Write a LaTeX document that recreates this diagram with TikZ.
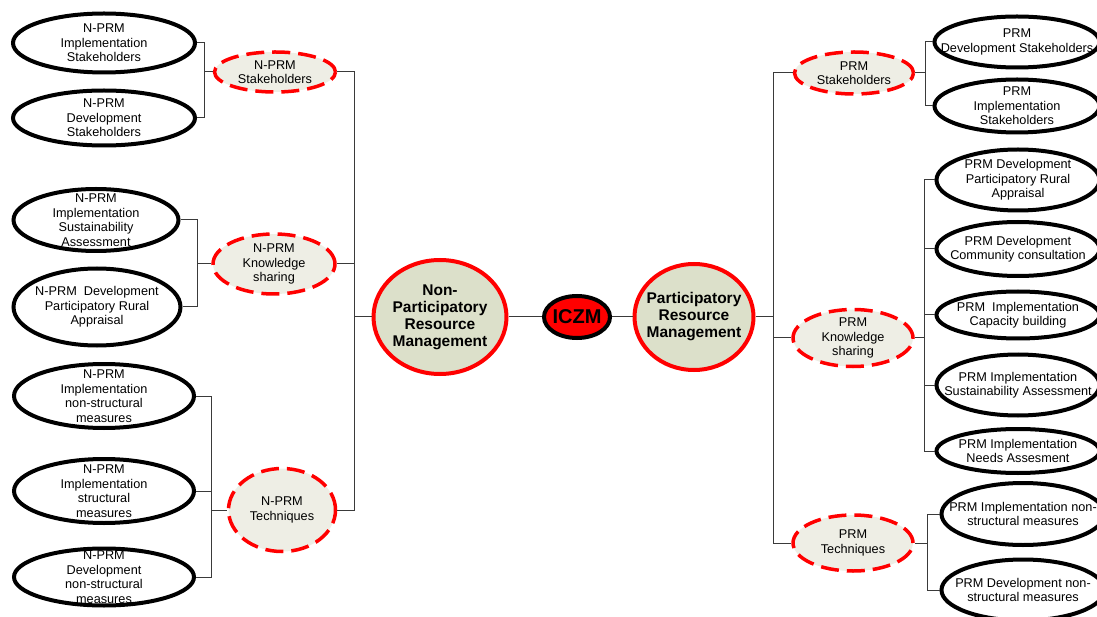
\documentclass[tikz,border=0pt]{standalone}
\usepackage{fontspec}
\setmainfont{Liberation Sans}
\usetikzlibrary{shapes.geometric}
\definecolor{iczmred}{HTML}{FF0000}
\definecolor{topicfill}{HTML}{EEEEE5}
\definecolor{corefill}{HTML}{DCE0CA}
\definecolor{linegray}{HTML}{3A3A3A}
\tikzset{
	leaf/.style 2 args={ellipse, draw, line width=4pt, inner sep=-20pt, minimum width=#1pt, minimum height=#2pt, align=center, font=\fontsize{12.7}{14.5}\selectfont},
	topic/.style 2 args={ellipse, draw=iczmred, fill=topicfill, line width=3.5pt, dash pattern=on 18pt off 8pt, inner sep=-20pt, minimum width=#1pt, minimum height=#2pt, align=center, font=\fontsize{12.7}{14.5}\selectfont},
	core/.style 2 args={ellipse, draw=iczmred, fill=corefill, line width=4pt, inner sep=-20pt, minimum width=#1pt, minimum height=#2pt, align=center, font=\bfseries\fontsize{15.5}{17}\selectfont},
	wire/.style={draw=linegray, line width=1pt},
}
\begin{document}
\begin{tikzpicture}[x=1pt,y=-1pt]
	\useasboundingbox (0,0) rectangle (1097,617);
	% centre
	\node[core={133}{114}] (NPRM) at (440,317) {Non-\\Participatory\\Resource\\Management};
	\node[ellipse, draw, fill=iczmred, line width=4pt, inner sep=-20pt, minimum width=66pt, minimum height=42pt, font=\bfseries\fontsize{20}{22}\selectfont] (ICZM) at (577,317) {ICZM};
	\node[core={119}{106}] (PRM) at (694,317) {Participatory\\Resource\\Management};
	\draw[wire] (NPRM) -- (ICZM) -- (PRM);

	% N-PRM side
	\node[topic={121}{40}] (nS) at (275,72) {N-PRM\\Stakeholders};
	\node[topic={122}{60}] (nK) at (274,264) {N-PRM\\Knowledge\\sharing};
	\node[topic={107}{83}] (nT) at (282,510) {N-PRM\\Techniques};
	\node[leaf={182}{59}] (n1) at (104,43) {N-PRM\\Implementation\\Stakeholders};
	\node[leaf={182}{55}] (n2) at (104,118) {N-PRM\\Development\\Stakeholders};
	\node[leaf={165}{62}] (n3) at (96,220) {N-PRM\\Implementation\\Sustainability\\Assessment};
	\node[leaf={167}{77}] (n4) at (97,307) {N-PRM\ \ Development\\Participatory Rural\\Appraisal};
	\node[leaf={180}{64}] (n5) at (104,396) {N-PRM\\Implementation\\non-structural\\measures};
	\node[leaf={180}{64}] (n6) at (104,491) {N-PRM\\Implementation\\structural\\measures};
	\node[leaf={180}{57}] (n7) at (104,577) {N-PRM\\Development\\non-structural\\measures};

	\coordinate (busL) at ([xshift=-17pt]NPRM.west);
	\draw[wire] (NPRM) -- (busL);
	\foreach \t in {nS,nK,nT}
		\draw[wire] (busL) |- (\t.east);

	\coordinate (bLS) at ([xshift=-8pt]nS.west);
	\coordinate (bLK) at ([xshift=-14pt]nK.west);
	\coordinate (bLT) at ([xshift=-15pt]nT.west);
	\draw[wire] (nS) -- (bLS);
	\draw[wire] (nK) -- (bLK);
	\draw[wire] (nT) -- (bLT);
	\foreach \l in {n1,n2}
		\draw[wire] (bLS) |- (\l.east);
	\foreach \l in {n3,n4}
		\draw[wire] (bLK) |- (\l.east);
	\foreach \l in {n5,n6,n7}
		\draw[wire] (bLT) |- (\l.east);

	% PRM side
	\node[topic={119}{42}] (pS) at (854,73) {PRM\\Stakeholders};
	\node[topic={120}{57}] (pK) at (853,338) {PRM\\Knowledge\\sharing};
	\node[topic={120}{56}] (pT) at (853,543) {PRM\\Techniques};
	\node[leaf={165}{51}] (p1) at (1017,42) {PRM\\Development Stakeholders};
	\node[leaf={165}{53}] (p2) at (1017,106) {PRM\\Implementation\\Stakeholders};
	\node[leaf={163}{61}] (p3) at (1018,180) {PRM Development\\Participatory Rural\\Appraisal};
	\node[leaf={163}{54}] (p4) at (1018,249) {PRM Development\\Community consultation};
	\node[leaf={163}{47}] (p5) at (1018,315) {PRM\ \ Implementation\\Capacity building};
	\node[leaf={163}{61}] (p6) at (1018,385) {PRM Implementation\\Sustainability Assessment};
	\node[leaf={163}{44}] (p7) at (1018,451) {PRM Implementation\\Needs Assesment};
	\node[leaf={163}{62}] (p8) at (1023,514) {PRM Implementation non-\\structural measures};
	\node[leaf={163}{61}] (p9) at (1023,590) {PRM Development non-\\structural measures};

	\coordinate (busR) at ([xshift=18pt]PRM.east);
	\draw[wire] (PRM) -- (busR);
	\foreach \t in {pS,pK,pT}
		\draw[wire] (busR) |- (\t.west);

	\coordinate (bRS) at ([xshift=10pt]pS.east);
	\coordinate (bRK) at ([xshift=10pt]pK.east);
	\coordinate (bRT) at ([xshift=13pt]pT.east);
	\draw[wire] (pS) -- (bRS);
	\draw[wire] (pK) -- (bRK);
	\draw[wire] (pT) -- (bRT);
	\foreach \l in {p1,p2}
		\draw[wire] (bRS) |- (\l.west);
	\foreach \l in {p3,p4,p5,p6,p7}
		\draw[wire] (bRK) |- (\l.west);
	\foreach \l in {p8,p9}
		\draw[wire] (bRT) |- (\l.west);
\end{tikzpicture}
\end{document}
